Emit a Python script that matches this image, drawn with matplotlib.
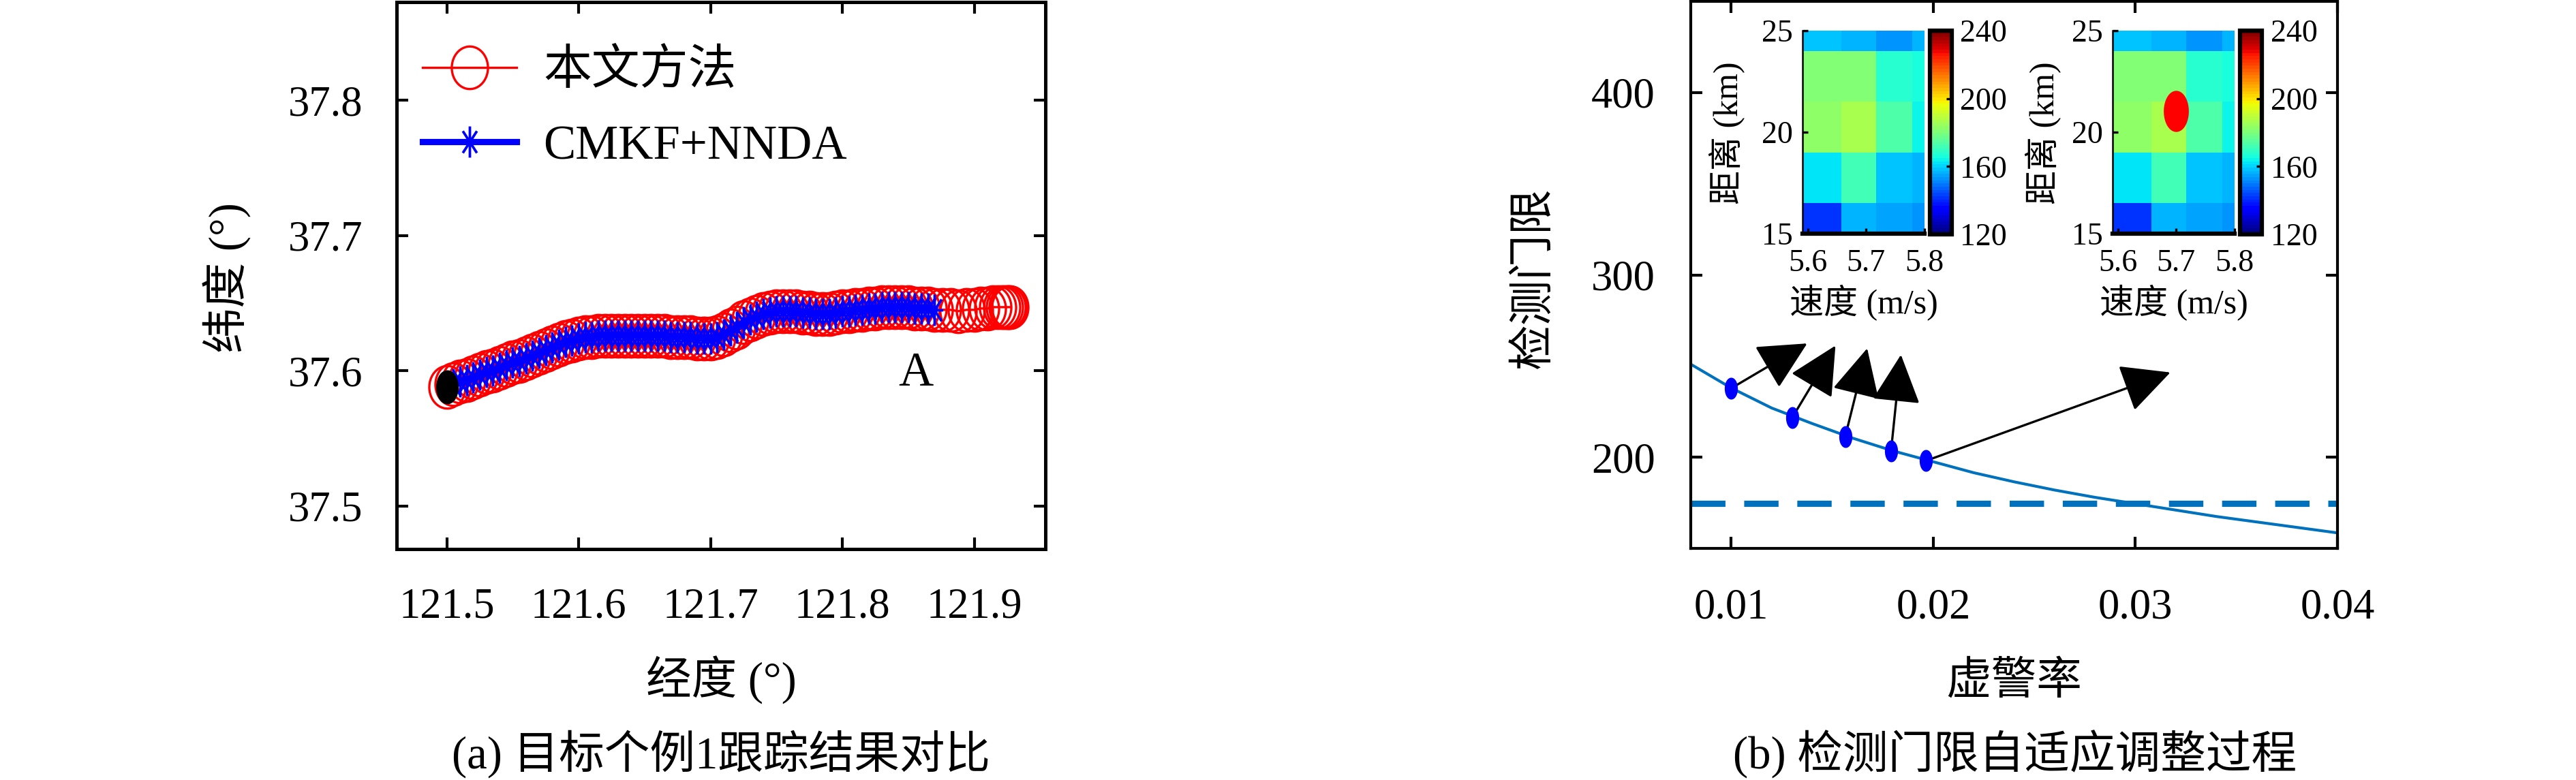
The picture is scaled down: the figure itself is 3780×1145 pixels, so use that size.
import matplotlib
matplotlib.use('Agg')
import matplotlib.pyplot as plt
import numpy as np
from matplotlib.path import Path

plt.rcParams['font.family'] = ['Liberation Serif', 'Noto Sans CJK SC']
plt.rcParams['font.size'] = 15
plt.rcParams['axes.unicode_minus'] = False

# ---------------- (a) tracking result ----------------
track_lon = [121.500, 121.505, 121.510, 121.515, 121.520, 121.525, 121.530, 121.535, 121.540, 121.545,
             121.550, 121.555, 121.560, 121.565, 121.570, 121.575, 121.580, 121.585, 121.590, 121.595,
             121.600, 121.605, 121.610, 121.615, 121.620, 121.625, 121.630, 121.635, 121.640, 121.645,
             121.650, 121.655, 121.660, 121.665, 121.670, 121.675, 121.680, 121.685, 121.690, 121.695,
             121.700, 121.705, 121.710, 121.715, 121.720, 121.725, 121.730, 121.735, 121.740, 121.745,
             121.750, 121.755, 121.760, 121.765, 121.770, 121.775, 121.780, 121.785, 121.790, 121.795,
             121.800, 121.805, 121.810, 121.815, 121.820, 121.825, 121.830, 121.835, 121.840, 121.845,
             121.850, 121.855, 121.860, 121.865, 121.870,
             121.876, 121.882, 121.888, 121.894, 121.900, 121.905, 121.910, 121.914, 121.918, 121.921,
             121.923, 121.925, 121.926, 121.927]
track_lat = [37.588, 37.590, 37.592, 37.593, 37.595, 37.597, 37.599, 37.600, 37.602, 37.604,
             37.606, 37.607, 37.609, 37.611, 37.613, 37.615, 37.617, 37.619, 37.621, 37.622,
             37.624, 37.625, 37.625, 37.626, 37.626, 37.626, 37.626, 37.626, 37.626, 37.626,
             37.626, 37.626, 37.626, 37.626, 37.625, 37.625, 37.625, 37.625, 37.624, 37.624,
             37.624, 37.625, 37.627, 37.630, 37.632, 37.636, 37.638, 37.640, 37.642, 37.643,
             37.644, 37.644, 37.644, 37.644, 37.643, 37.643, 37.642, 37.642, 37.642, 37.643,
             37.644, 37.644, 37.645, 37.645, 37.646, 37.646, 37.647, 37.647, 37.647, 37.647,
             37.647, 37.646, 37.646, 37.646, 37.645,
             37.645, 37.645, 37.644, 37.645, 37.645, 37.646, 37.646, 37.647, 37.647, 37.647,
             37.647, 37.647, 37.647, 37.647]
nnda_count = 75          # CMKF+NNDA track stops here
start_lon = [121.500]
start_lat = [37.588]

# ---------------- (b) threshold adaptation ----------------
pfa = [0.008, 0.010, 0.012, 0.014, 0.016, 0.018, 0.020, 0.022, 0.024,
       0.026, 0.028, 0.030, 0.032, 0.034, 0.036, 0.038, 0.040]
threshold = [251, 238, 227, 218.5, 210.5, 203.5, 197.5, 191.5, 186.5,
             182, 178, 174.5, 171, 167.5, 164.5, 161.5, 158.5]
fixed_threshold = 174.5
step_pfa = [0.0100, 0.01303, 0.01564, 0.01791, 0.01965]
step_thr = [237.8, 221.9, 211.2, 203.4, 198.1]
arrow_pfa = [0.01376, 0.01516, 0.01673, 0.01840, 0.03173]
arrow_thr = [262.4, 261.2, 259.7, 256.2, 246.5]

# range-speed energy map (insets)
speed_edges = [5.591, 5.657, 5.717, 5.779, 5.800]
range_edges = [15.0, 16.5, 19.0, 21.5, 24.0, 25.0]
energy = [[142, 157, 155, 153],
          [163, 171, 159, 157],
          [182, 186, 173, 164],
          [181, 181, 168, 166],
          [159, 157, 153, 157]]
target_speed, target_range = 5.70, 21.03


def ellipse_marker(ratio):
    t = np.linspace(0, 2 * np.pi, 61)
    return Path(np.column_stack([ratio * np.cos(t), np.sin(t)]), closed=True)


star = Path([(0, -1), (0, 1), (-0.55, 0), (0.55, 0),
             (-0.45, -0.7), (0.45, 0.7), (-0.45, 0.7), (0.45, -0.7)],
            [Path.MOVETO, Path.LINETO] * 4)

fig = plt.figure(figsize=(12.6, 1145 / 300), dpi=300)

# ================= panel (a) =================
ax = fig.add_axes([582 / 3780, 1 - 806 / 1145, 952 / 3780, 803.5 / 1145])
ax.plot(track_lon, track_lat, '-', color='r', lw=0.8, marker=ellipse_marker(0.85),
        ms=15, mfc='none', mec='r', mew=0.8, label='本文方法')
ax.plot(track_lon[:nnda_count], track_lat[:nnda_count], '-', color='b', lw=2.2,
        marker=star, ms=11, mfc='none', mec='b', mew=0.9, label='CMKF+NNDA')
ax.plot(start_lon, start_lat, ls='none', marker=ellipse_marker(0.63), ms=11,
        color='k', zorder=5)
ax.text(121.856, 37.598, 'A', fontsize=17, ha='center', va='center')

ax.set_xlim(121.462, 121.954)
ax.set_ylim(37.468, 37.873)
ax.set_xticks([121.5, 121.6, 121.7, 121.8, 121.9])
ax.set_yticks([37.5, 37.6, 37.7, 37.8])
ax.tick_params(direction='in', top=True, right=True, length=4, width=1.0)
ax.tick_params(axis='x', pad=13.5)
ax.tick_params(axis='y', pad=12)
for s in ax.spines.values():
    s.set_linewidth(1.2)
ax.legend(loc='upper left', bbox_to_anchor=(0.04, 0.912), frameon=False, fontsize=17,
          handlelength=1.95, handletextpad=0.55, labelspacing=0.62, borderpad=0,
          borderaxespad=0)
ax.text(0.5, (806 - 998) / 803.5, '经度 (°)', transform=ax.transAxes,
        ha='center', va='center', fontsize=16)
ax.text((333 - 582) / 952, (806 - 408) / 803.5, '纬度 (°)', transform=ax.transAxes,
        ha='center', va='center', rotation=90, fontsize=16)
fig.text(1058 / 3780, 1 - 1107 / 1145, '(a) 目标个例1跟踪结果对比',
         ha='center', va='center', fontsize=16)

# ================= panel (b) =================
bx = fig.add_axes([2481 / 3780, 1 - 805 / 1145, 949 / 3780, 803 / 1145])
bx.plot(pfa, threshold, color='#0072BD', lw=1.0)
bx.axhline(fixed_threshold, color='#0072BD', lw=2.2, dashes=(5.5, 3))
bx.plot(step_pfa, step_thr, ls='none', marker=ellipse_marker(0.54), ms=6.7,
        color='b', zorder=4)
for sx, sy, ex, ey in zip(step_pfa, step_thr, arrow_pfa, arrow_thr):
    bx.annotate('', xy=(ex, ey), xytext=(sx, sy),
                arrowprops=dict(arrowstyle='-|>,head_length=1.0,head_width=0.5',
                                mutation_scale=15, lw=0.8, color='k',
                                shrinkA=0, shrinkB=0))
bx.set_xlim(0.008, 0.04)
bx.set_ylim(150, 450)
bx.set_xticks([0.01, 0.02, 0.03, 0.04])
bx.set_xticklabels(['0.01', '0.02', '0.03', '0.04'])
bx.set_yticks([200, 300, 400])
bx.tick_params(direction='in', top=True, right=True, length=4, width=1.0)
bx.tick_params(axis='x', pad=14)
bx.tick_params(axis='y', pad=12.5)
for s in bx.spines.values():
    s.set_linewidth(1.0)
bx.text(0.5, (805 - 1002) / 803, '虚警率', transform=bx.transAxes,
        ha='center', va='center', fontsize=16)
bx.text((2252 - 2481) / 949, (805 - 408) / 803, '检测门限', transform=bx.transAxes,
        ha='center', va='center', rotation=90, fontsize=16)
fig.text(2957 / 3780, 1 - 1107 / 1145, '(b) 检测门限自适应调整过程',
         ha='center', va='center', fontsize=16)

# ---------------- insets ----------------
jet = plt.get_cmap('jet', 64)
for k, (left, cleft, ylab_x) in enumerate([(2645, 2832, 2535), (3100, 3287, 2999)]):
    ia = fig.add_axes([left / 3780, 1 - 343 / 1145, 179 / 3780, 298 / 1145])
    mesh = ia.pcolormesh(speed_edges, range_edges, energy, cmap=jet, vmin=120, vmax=240)
    if k == 1:
        ia.plot([target_speed], [target_range], ls='none', marker=ellipse_marker(0.58),
                ms=13.5, color='r')
    ia.set_xlim(5.591, 5.80)
    ia.set_ylim(15, 25)
    ia.set_xticks([5.6, 5.7, 5.8])
    ia.set_yticks([15, 20, 25])
    ia.spines['top'].set_visible(False)
    ia.spines['right'].set_visible(False)
    ia.spines['left'].set_linewidth(0.6)
    ia.spines['bottom'].set_linewidth(1.5)
    ia.tick_params(direction='in', length=2, width=0.8, labelsize=11)
    ia.tick_params(axis='x', pad=5.5)
    ia.tick_params(axis='y', pad=3.5)
    ia.text(0.5, -0.34, '速度 (m/s)', transform=ia.transAxes, ha='center',
            va='center', fontsize=12)
    ia.text((ylab_x - left) / 179, (343 - 195) / 298, '距离 (km)', transform=ia.transAxes,
            ha='center', va='center', rotation=90, fontsize=12)

    cax = fig.add_axes([cleft / 3780, 1 - 344 / 1145, 32 / 3780, 299 / 1145])
    cb = fig.colorbar(mesh, cax=cax, ticks=[120, 160, 200, 240])
    cb.outline.set_linewidth(1.5)
    cax.tick_params(labelsize=11, length=2, width=0.8, direction='in', pad=3)

fig.savefig('out.png', dpi=300)
